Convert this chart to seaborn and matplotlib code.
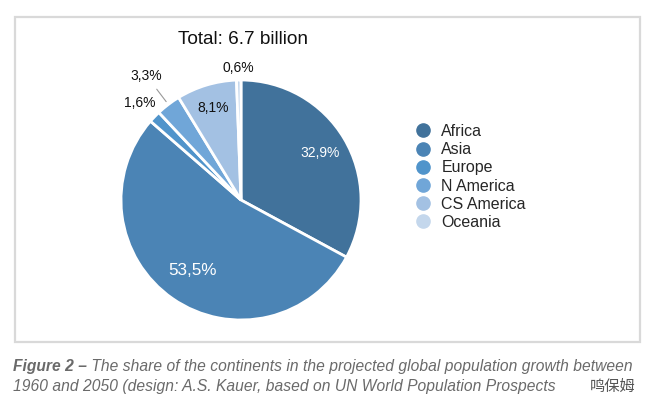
import numpy as np
import matplotlib
matplotlib.use("Agg")
import matplotlib.pyplot as plt
from matplotlib.patches import Rectangle
from matplotlib.lines import Line2D
import seaborn as sns

categories = ["Africa", "Asia", "Europe", "N America", "CS America", "Oceania"]
shares = [32.9, 53.5, 1.6, 3.3, 8.1, 0.6]
share_labels = ["32,9%", "53,5%", "1,6%", "3,3%", "8,1%", "0,6%"]
colors = ["#41729b", "#4b84b5", "#5094cb", "#70a6d8", "#a3c1e3", "#c4d7ec"]
label_radius = [0.77, 0.71, 1.17, 1.30, 0.80, 1.10]
label_colors = ["white", "white", "#111111", "#111111", "#111111", "#111111"]
label_sizes = [10, 12.3, 10, 10, 10, 10]
title = "Total: 6.7 billion"
caption_bold = "Figure 2 \u2013"
caption_rest = " The share of the continents in the projected global population growth between"
caption_line2 = "1960 and 2050 (design: A.S. Kauer, based on UN World Population Prospects"

sns.set_theme(style="white")
plt.rcParams["font.family"] = ["Liberation Sans", "DejaVu Sans"]

W, H = 655, 417
fig = plt.figure(figsize=(W / 100, H / 100), dpi=100)
fig.patch.set_facecolor("white")

def fx(px):
    return px / W

def fy(py):
    return 1 - py / H

# frame
fig.patches.append(Rectangle((fx(15), fy(342)), fx(640) - fx(15), fy(17) - fy(342),
                             transform=fig.transFigure, fill=False,
                             edgecolor="#d9d9d9", linewidth=1.6, zorder=0))

cx, cy, R = 241, 200, 120
ax = fig.add_axes([fx(cx - R), fy(cy + R), 2 * R / W, 2 * R / H])
wedges, _ = ax.pie(shares, colors=colors, startangle=90, counterclock=False,
                   radius=1.0,
                   wedgeprops=dict(edgecolor="white", linewidth=2.0))
ax.set_xlim(-1, 1)
ax.set_ylim(-1, 1)
ax.axis("off")

for w, lab, r, c, s in zip(wedges, share_labels, label_radius, label_colors, label_sizes):
    ang = np.deg2rad((w.theta1 + w.theta2) / 2)
    ax.text(r * np.cos(ang), r * np.sin(ang), lab, ha="center", va="center",
            fontsize=s, color=c, clip_on=False)
    if lab == "3,3%":
        ax.plot([1.03 * np.cos(ang), 1.16 * np.cos(ang)],
                [1.03 * np.sin(ang), 1.16 * np.sin(ang)],
                color="#999999", linewidth=0.8, clip_on=False)

fig.text(fx(243), fy(40), title, ha="center", va="center", fontsize=13.7, color="#111111")

handles = [Line2D([], [], marker="o", linestyle="none", markersize=9.5,
                  markerfacecolor=c, markeredgecolor=c) for c in colors]
fig.legend(handles, categories, loc="center left",
           bbox_to_anchor=(fx(415), fy(177)), frameon=False, fontsize=11.5,
           handletextpad=0.65, labelspacing=0.2, handlelength=1.0,
           borderaxespad=0, borderpad=0)

cap_color = "#6a6a6a"
cap_fs = 11.25
t1 = fig.text(fx(13), fy(366), caption_bold, fontsize=cap_fs, style="italic",
              weight="bold", color=cap_color, ha="left", va="center")
fig.canvas.draw()
bb = t1.get_window_extent(renderer=fig.canvas.get_renderer())
fig.text(bb.x1 / W, fy(366), caption_rest, fontsize=cap_fs, style="italic",
         color=cap_color, ha="left", va="center")
fig.text(fx(13), fy(386), caption_line2, fontsize=cap_fs, style="italic",
         color=cap_color, ha="left", va="center")
fig.text(fx(590), fy(386), "鸣保姆", fontsize=11, color="#555555",
         ha="left", va="center", family=["Noto Sans CJK SC", "DejaVu Sans"])

fig.savefig("out.png", dpi=100, facecolor="white")
